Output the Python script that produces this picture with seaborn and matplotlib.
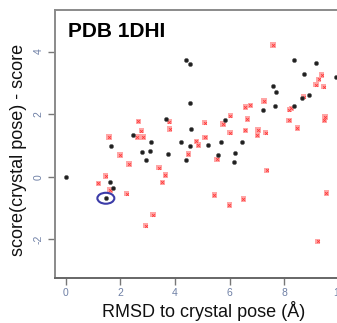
import matplotlib
matplotlib.use("Agg")
import matplotlib.pyplot as plt
from matplotlib.patches import Ellipse
import seaborn as sns
import pandas as pd

# black series (RMSD, score difference)
black_x = [0.00, 1.65, 1.62, 1.74, 1.47, 2.46, 3.12, 2.78, 3.09, 2.94, 3.67, 3.73,
           4.41, 4.54, 4.53, 4.59, 4.22, 4.53, 4.40, 5.20, 5.68, 6.45, 5.58, 6.20,
           6.14, 5.83, 7.23, 7.58, 7.70, 7.66, 8.36, 8.35, 8.63, 8.71, 8.89, 9.16, 9.89]
black_y = [0.00, 0.97, -0.16, -0.36, -0.69, 1.33, 1.10, 0.79, 0.81, 0.53, 1.86, 0.73,
           3.72, 3.59, 2.35, 1.53, 1.10, 0.99, 0.53, 1.02, 1.10, 1.10, 0.70, 0.76,
           0.46, 1.81, 2.12, 2.90, 2.71, 2.27, 3.73, 2.26, 2.51, 3.28, 2.62, 3.62, 3.19]

# red series
red_x = [1.20, 1.46, 1.62, 1.59, 1.99, 2.23, 2.32, 2.66, 2.77, 2.62, 2.83, 2.93,
         3.20, 3.42, 3.65, 3.54, 3.79, 3.80, 4.78, 4.85, 4.49, 5.08, 5.10, 5.54,
         5.44, 5.99, 6.50, 5.75, 6.02, 6.01, 6.57, 6.75, 6.64, 6.57, 7.04, 7.01,
         7.31, 7.35, 7.26, 7.58, 8.25, 8.18, 8.17, 8.47, 8.71, 9.15, 9.25, 9.36,
         9.44, 9.49, 9.46, 9.54, 9.22]
red_y = [-0.21, 0.02, -0.42, 1.27, 0.69, -0.54, 0.40, 1.77, 1.47, 1.27, 1.27, -1.57,
         -1.21, 0.29, 0.05, -0.18, 1.76, 1.53, 1.13, 1.01, 0.72, 1.73, 1.26, 0.55,
         -0.58, -0.90, -0.71, 1.68, 1.95, 1.41, 2.23, 2.28, 1.85, 1.48, 1.49, 1.32,
         1.41, 0.20, 2.42, 4.21, 2.19, 2.14, 1.80, 1.56, 2.56, 2.94, 3.11, 3.25,
         2.88, 1.91, 1.81, -0.52, -2.07]

circled_index = 4  # black point highlighted with an ellipse

x_ticks = [0, 2, 4, 6, 8, 10]
y_ticks = [-2, 0, 2, 4]
title = "PDB 1DHI"
x_label = "RMSD to crystal pose (Å)"
y_label = "score(crystal pose) - score"

sns.set_style("white")
plt.rcParams["font.family"] = ["Liberation Sans", "DejaVu Sans"]

fig = plt.figure(figsize=(3.37, 3.23), dpi=100)
ax = fig.add_axes([55 / 337, 45 / 323, 295 / 337, 268 / 323])

df_b = pd.DataFrame({"x": black_x, "y": black_y})
df_r = pd.DataFrame({"x": red_x, "y": red_y})

sns.scatterplot(data=df_r, x="x", y="y", ax=ax, marker="s", s=15,
                color="#ffa6a6", edgecolor="none", linewidth=0, zorder=3)
sns.scatterplot(data=df_r, x="x", y="y", ax=ax, marker="x", s=4,
                color="#ff3a3a", linewidth=0.6, zorder=4)
sns.scatterplot(data=df_b, x="x", y="y", ax=ax, marker="o", s=9,
                color="#202020", edgecolor="#606060", linewidth=0.4, zorder=5)

ell = Ellipse((black_x[circled_index], black_y[circled_index]), width=0.62, height=0.35,
              fill=False, edgecolor="#3b3ba8", linewidth=1.5, zorder=6)
ax.add_patch(ell)

ax.set_xlim(-0.39, 10.4)
ax.set_ylim(-3.24, 5.33)
ax.set_xticks(x_ticks)
ax.set_yticks(y_ticks)
ax.set_xticklabels([str(t) for t in x_ticks])
ax.set_yticklabels([str(t) for t in y_ticks], rotation=90, va="center")
ax.set_xlabel("")
ax.set_ylabel("")

tick_col = "#6f80a6"
ax.tick_params(axis="both", direction="out", length=5, width=1, color="#777777",
               labelsize=7.5, labelcolor=tick_col, pad=3, left=True, bottom=True)
ax.tick_params(axis="x", pad=2)

for side in ["left", "bottom", "top", "right"]:
    ax.spines[side].set_color("#8a8a8a")
    ax.spines[side].set_linewidth(1.4)
ax.spines["bottom"].set_color("#666666")

fig.text(204 / 337, 6 / 323, x_label, fontsize=13, ha="center", va="baseline",
         color="#111111")
fig.text(19 / 337, (323 - 150) / 323, y_label, fontsize=13, ha="center", va="center",
         rotation=90, color="#111111")

ax.text(0.044, 0.899, title, transform=ax.transAxes, fontsize=15, fontweight="bold",
        ha="left", va="baseline", color="black")

fig.savefig("out.png", dpi=100)
